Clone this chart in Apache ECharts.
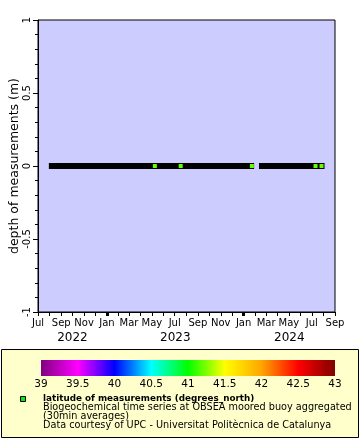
<!DOCTYPE html>
<html>
<head>
<meta charset="utf-8">
<script src="https://cdn.jsdelivr.net/npm/echarts@6/dist/echarts.min.js"></script>
<style>html,body{margin:0;padding:0;background:#fff}#c{width:360px;height:440px}</style>
</head>
<body>
<div id="c"></div>
<script>
// ---- data ----
var xStart = '2022-07-01', xEnd = '2024-09-01';
var monthLabels = ['Jul','Sep','Nov','Jan','Mar','May','Jul','Sep','Nov','Jan','Mar','May','Jul','Sep'];
var monthLabelDates = ['2022-07-01','2022-09-01','2022-11-01','2023-01-01','2023-03-01','2023-05-01','2023-07-01','2023-09-01','2023-11-01','2024-01-01','2024-03-01','2024-05-01','2024-07-01','2024-09-01'];
var yearLabels = ['2022','2023','2024'];
var janDates = ['2023-01-01','2024-01-01'];
var yTicks = [-1, -0.5, 0, 0.5, 1];
// black bands of measurements without colour (start, end, depth)
var segStarts = ['2022-07-30','2024-02-11'];
var segEnds   = ['2024-01-29','2024-08-04'];
var segDepth  = [0, 0];
// coloured markers
var ptDates = ['2023-05-09','2023-07-17','2024-01-23','2024-07-11','2024-07-27'];
var ptDepth = [0, 0, 0, 0, 0];
var ptLat   = [41.2, 41.2, 41.2, 41.2, 41.2];
// colour bar
var cbValues = [39, 39.5, 40, 40.5, 41, 41.5, 42, 42.5, 43];
var cbColors = ['#800080','#ff00ff','#0000ff','#00ffff','#00ff00','#ffff00','#ffa500','#ff0000','#800000'];

// ---- helpers ----
function t(s){ var p = s.split('-'); return Date.UTC(+p[0], +p[1]-1, +p[2]); }
var tMin = t(xStart), tMax = t(xEnd);
var labelMap = {};
monthLabelDates.forEach(function(d,i){ labelMap[t(d)] = monthLabels[i]; });
var monthTicks = [];
(function(){ var y=2022, m=6; while (Date.UTC(y,m,1) <= tMax){ monthTicks.push(Date.UTC(y,m,1)); m++; if(m>11){m=0;y++;} } })();
var yearCenters = [], yearMap = {};
yearLabels.forEach(function(y){
  var a = Math.max(tMin, Date.UTC(+y,0,1)), b = Math.min(tMax, Date.UTC(+y+1,0,1));
  var c = (a+b)/2; yearCenters.push(c); yearMap[c] = y;
});
var segData = segStarts.map(function(s,i){ return [t(s), t(segEnds[i]), segDepth[i]]; });
var ptData = ptDates.map(function(d,i){ return [t(d), ptDepth[i], ptLat[i]]; });
var FONT = 'DejaVu Sans';

var chart = echarts.init(document.getElementById('c'), null, {renderer:'canvas'});
var cbMin = cbValues[0], cbMax = cbValues[cbValues.length-1];
chart.setOption({
  animation: false,
  backgroundColor: '#ffffff',
  textStyle: { fontFamily: FONT },
  grid: [
    { left: 38, top: 20, width: 297, height: 292, show: true, backgroundColor: '#ccccff', borderColor: '#000', borderWidth: 1, containLabel: false, outerBoundsMode: 'none' },
    { left: 41, top: 360, width: 294, height: 16, show: false, containLabel: false, outerBoundsMode: 'none' }
  ],
  xAxis: [
    { type: 'value', gridIndex: 0, min: tMin, max: tMax, position: 'bottom',
      axisLine: { show: true, onZero: false, lineStyle: { color: '#000', width: 1 } },
      axisTick: { show: true, customValues: monthTicks, length: 4, lineStyle: { color: '#000' } },
      axisLabel: { customValues: monthLabelDates.map(t), formatter: function(v){ return labelMap[v] || ''; },
                   color: '#000', fontSize: 10, fontFamily: FONT, margin: 6 },
      splitLine: { show: false } },
    { type: 'value', gridIndex: 0, min: tMin, max: tMax, position: 'bottom',
      axisLine: { show: false, onZero: false },
      axisTick: { show: true, customValues: janDates.map(t), length: 4, lineStyle: { color: '#000', width: 3 } },
      axisLabel: { show: false }, splitLine: { show: false } },
    { type: 'value', gridIndex: 0, min: tMin, max: tMax, position: 'bottom',
      axisLine: { show: false, onZero: false }, axisTick: { show: false },
      axisLabel: { customValues: yearCenters, formatter: function(v){ return yearMap[v] || ''; },
                   color: '#000', fontSize: 12, fontFamily: FONT, margin: 20 },
      splitLine: { show: false } },
    { type: 'value', gridIndex: 1, min: cbMin, max: cbMax, interval: 0.5,
      axisLine: { show: false, onZero: false }, axisTick: { show: false },
      axisLabel: { color: '#000', fontSize: 10.5, fontFamily: FONT, margin: 3, showMinLabel: true, showMaxLabel: true },
      splitLine: { show: false } }
  ],
  yAxis: [
    { type: 'value', gridIndex: 0, min: -1, max: 1, interval: 0.5,
      name: 'depth of measurements (m)', nameLocation: 'middle', nameGap: 17, nameRotate: 90, nameMoveOverlap: false,
      nameTextStyle: { color: '#000', fontSize: 12.5, fontFamily: FONT },
      axisLine: { show: true, onZero: false, lineStyle: { color: '#000' } },
      axisTick: { show: true, length: 5, lineStyle: { color: '#000' } },
      minorTick: { show: true, splitNumber: 5, length: 3, lineStyle: { color: '#000' } },
      axisLabel: { rotate: 90, color: '#000', fontSize: 10, fontFamily: FONT, margin: 6,
                   formatter: function(v){ return yTicks.indexOf(v) >= 0 ? String(v) : ''; } },
      splitLine: { show: false } },
    { type: 'value', gridIndex: 1, min: 0, max: 1, show: false }
  ],
  visualMap: [{ type: 'continuous', show: false, min: cbMin, max: cbMax, dimension: 2, seriesIndex: 1,
                inRange: { color: cbColors } }],
  series: [
    { type: 'custom', xAxisIndex: 0, yAxisIndex: 0, data: segData, clip: true,
      renderItem: function(params, api){
        var a = api.coord([api.value(0), api.value(2)]);
        var b = api.coord([api.value(1), api.value(2)]);
        return { type: 'rect', shape: { x: a[0], y: a[1]-3, width: b[0]-a[0], height: 6 }, style: { fill: '#000' } };
      } },
    { type: 'scatter', xAxisIndex: 0, yAxisIndex: 0, data: ptData, symbol: 'rect', symbolSize: [4,4],
      itemStyle: { opacity: 1 } },
    { type: 'custom', xAxisIndex: 3, yAxisIndex: 1, data: [[cbMin, cbMax]], silent: true,
      renderItem: function(params, api){
        var a = api.coord([api.value(0), 0]);
        var b = api.coord([api.value(1), 1]);
        var stops = cbValues.map(function(v,i){ return { offset: (v-cbMin)/(cbMax-cbMin), color: cbColors[i] }; });
        return { type: 'rect', shape: { x: a[0], y: b[1], width: b[0]-a[0], height: a[1]-b[1] },
                 style: { fill: new echarts.graphic.LinearGradient(0,0,1,0, stops) } };
      } }
  ],
  graphic: [
    { type: 'rect', z: -10, shape: { x: 1.5, y: 349.5, width: 357, height: 88 }, style: { fill: '#ffffcc', stroke: '#000', lineWidth: 1 } },
    { type: 'rect', shape: { x: 20.5, y: 396.5, width: 5, height: 5 }, style: { fill: '#00ee00', stroke: '#000', lineWidth: 1 } },
    { type: 'text', left: 43, top: 394, style: { text: 'latitude of measurements (degrees_north)', font: 'bold 8.8px "DejaVu Sans"', fill: '#000' } },
    { type: 'text', left: 43, top: 402.5, style: { text: 'Biogeochemical time series at OBSEA moored buoy aggregated', font: '9.7px "DejaVu Sans"', fill: '#000' } },
    { type: 'text', left: 43, top: 411.5, style: { text: '(30min averages)', font: '9.7px "DejaVu Sans"', fill: '#000' } },
    { type: 'text', left: 43, top: 420.5, style: { text: 'Data courtesy of UPC - Universitat Politècnica de Catalunya', font: '9.7px "DejaVu Sans"', fill: '#000' } }
  ]
});
</script>
</body>
</html>
